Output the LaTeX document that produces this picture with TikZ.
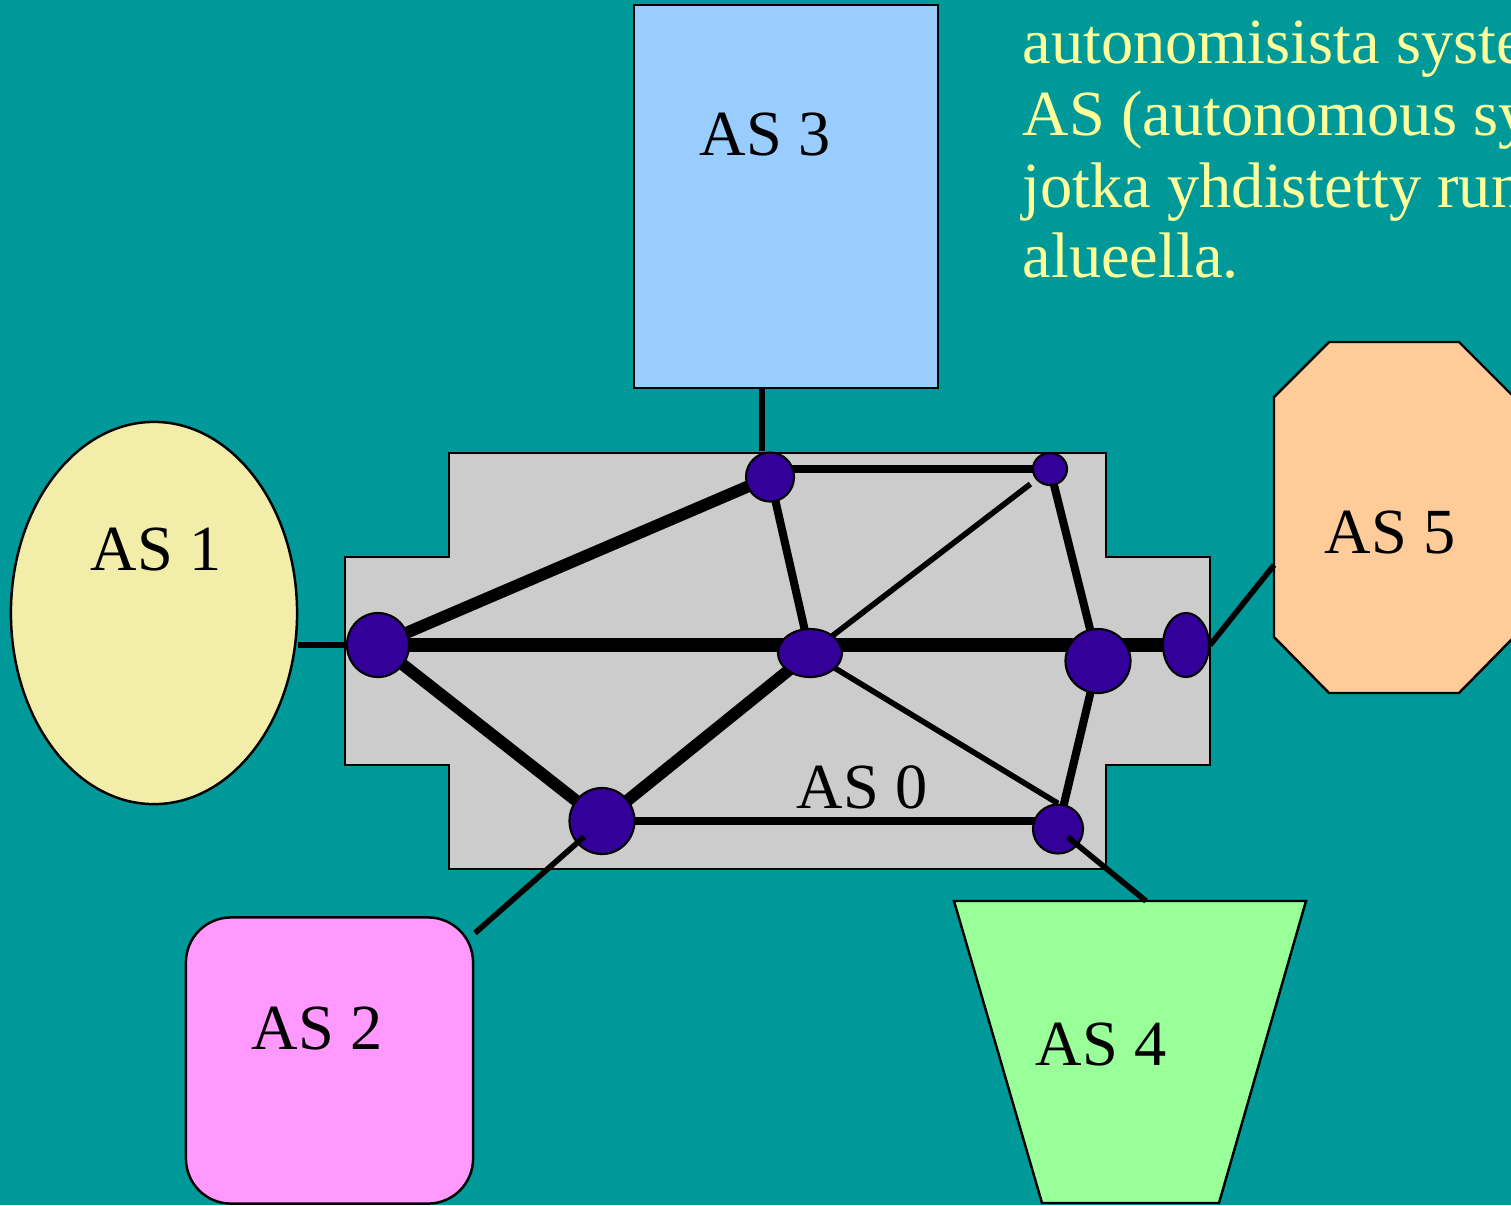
\documentclass[tikz,border=0pt]{standalone}
\usepackage{fontspec}
\setmainfont{Liberation Serif}
\usetikzlibrary{shapes.geometric}
\definecolor{bgteal}{RGB}{0,153,153}
\definecolor{routerblue}{RGB}{51,0,153}
\definecolor{coregray}{RGB}{204,204,204}
\definecolor{asone}{RGB}{242,237,168}
\definecolor{astwo}{RGB}{255,153,255}
\definecolor{asthree}{RGB}{153,204,255}
\definecolor{asfour}{RGB}{153,255,153}
\definecolor{asfive}{RGB}{255,204,153}
\definecolor{notetext}{RGB}{255,255,153}
\pgfdeclarelayer{bg}
\pgfdeclarelayer{links}
\pgfsetlayers{bg,links,main}

\tikzset{
  area/.style={draw=black, line width=0.7pt, inner sep=0pt},
  router/.style={ellipse, draw=black, line width=0.6pt, fill=routerblue, inner sep=0pt},
  aslabel/.style={font=\fontsize{18.3}{20.5}\selectfont, inner sep=0pt, anchor=base},
  trunk/.style={line width=4pt},
  heavy/.style={line width=3.4pt},
  medium/.style={line width=2.3pt},
  light/.style={line width=1.6pt},
}

\begin{document}
\begin{tikzpicture}[x=0.01cm,y=-0.01cm]
  \useasboundingbox (0,0) rectangle (1511,1205);

  % the backbone area AS 0
  \begin{pgfonlayer}{bg}
    \fill[bgteal] (0,0) rectangle (1511,1205);
    \draw[area, fill=coregray] (449,453) -- (1106,453) -- (1106,557) -- (1210,557) -- (1210,765) -- (1106,765)
      -- (1106,869) -- (449,869) -- (449,765) -- (345,765) -- (345,557) -- (449,557) -- cycle;
  \end{pgfonlayer}
  \node[aslabel] at (862,808) {AS 0};

  % routers
  \node[router, minimum width=0.62cm, minimum height=0.64cm] (r1) at (378,645) {};
  \node[router, minimum width=0.48cm, minimum height=0.49cm] (r2) at (770,477) {};
  \node[router, minimum width=0.34cm, minimum height=0.32cm] (r3) at (1050,469) {};
  \node[router, minimum width=0.64cm, minimum height=0.48cm] (r4) at (810,653) {};
  \node[router, minimum width=0.65cm, minimum height=0.64cm] (r5) at (1098,661) {};
  \node[router, minimum width=0.46cm, minimum height=0.64cm] (r6) at (1186,645) {};
  \node[router, minimum width=0.65cm, minimum height=0.66cm] (r7) at (602,821) {};
  \node[router, minimum width=0.50cm, minimum height=0.49cm] (r8) at (1058,829) {};

  % links inside AS 0
  \begin{pgfonlayer}{links}
    \draw[trunk] (r1.center) -- (r6.center);
    \draw[heavy] (r1.center) -- (r2.center);
    \draw[heavy] (r1.center) -- (r7.center);
    \draw[heavy] (r7.center) -- (r4.center);
    \draw[medium] (r2.center) -- (r4.center);
    \draw[medium] (r3 -| r2) -- (r3.center);
    \draw[medium] (r3.center) -- (r5.center);
    \draw[medium] (r5.center) -- (r8.center);
    \draw[medium] (r7.center) -- (r7 -| r8);
    \draw[light, shorten >=2pt] (r4.center) -- (r3);
    \draw[light] (r4.center) -- (r8.north);
  \end{pgfonlayer}

  % the other autonomous systems
  \node[area, ellipse, fill=asone, minimum width=2.86cm, minimum height=3.82cm] (as1) at (154,613) {};
  \node[aslabel] at (156,570) {AS 1};

  \node[area, rectangle, rounded corners=0.45cm, fill=astwo, minimum width=2.87cm, minimum height=2.86cm] (as2) at (329.5,1060.5) {};
  \node[aslabel] at (317,1049) {AS 2};
  \coordinate (as2port) at (475,933);

  \node[area, rectangle, fill=asthree, minimum width=3.04cm, minimum height=3.83cm] (as3) at (786,196.5) {};
  \node[aslabel] at (765,155) {AS 3};
  \coordinate (as3port) at (762,388);

  \draw[area, fill=asfour] (954,901) -- (1306,901) -- (1219,1203) -- (1042,1203) -- cycle;
  \node[aslabel] at (1101,1065) {AS 4};
  \coordinate (as4port) at (1146,901);

  \draw[area, fill=asfive] (1329,342) -- (1459,342) -- (1514,397) -- (1514,637) -- (1459,693) -- (1329,693)
    -- (1274,637) -- (1274,397) -- cycle;
  \node[aslabel] at (1390,553) {AS 5};
  \coordinate (as5port) at (1274,565);

  % links to the backbone
  \draw[light] (as1.east |- r1) -- (r1);
  \draw[light] (as3port) -- (as3port |- r2.north);
  \draw[light] (r6.east) -- (as5port);
  \draw[light, shorten <=6.8pt] (r7.center) -- (as2port);
  \draw[light, shorten <=3.6pt] (r8.center) -- (as4port);

  % note text, cut at the right edge
  \foreach \y/\line in {63/autonomisista syste, 135/AS (autonomous sy, 207/jotka yhdistetty run, 277/alueella.}
    \node[aslabel, anchor=base west, text=notetext] at (1022,\y) {\line};
\end{tikzpicture}
\end{document}
